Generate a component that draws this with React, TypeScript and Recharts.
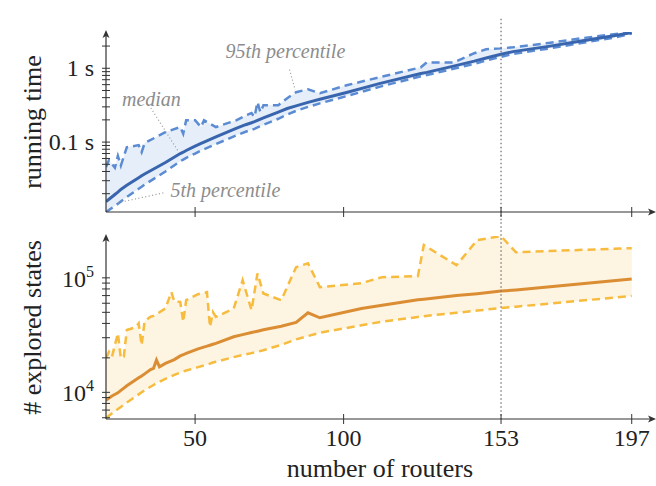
import React from "react";
import {
  ComposedChart,
  Line,
  Area,
  XAxis,
  YAxis,
  ReferenceLine,
  ReferenceDot,
} from "recharts";

// running time (s) per number of routers
const routersTop = [
  20, 21, 23, 24, 25, 27, 31, 32, 33, 40, 45, 46, 47, 50, 52, 53, 57, 64, 67,
  69, 70, 71, 72, 73, 78, 81, 84, 88, 92, 101, 112, 126, 128, 137, 144, 148,
  153, 157, 169, 180, 191, 197,
];
const timeP5 = [
  0.0113, 0.012, 0.0137, 0.0146, 0.0157, 0.018, 0.0233, 0.0248, 0.0265, 0.04,
  0.055, 0.058, 0.061, 0.07, 0.077, 0.08, 0.094, 0.124, 0.138, 0.147, 0.151,
  0.158, 0.164, 0.171, 0.207, 0.236, 0.265, 0.3, 0.335, 0.42, 0.56, 0.78, 0.81,
  0.985, 1.15, 1.27, 1.43, 1.56, 1.85, 2.2, 2.6, 2.95,
];
const timeMedian = [
  0.0156, 0.0168, 0.0195, 0.021, 0.0228, 0.026, 0.033, 0.035, 0.037, 0.053,
  0.07, 0.073, 0.077, 0.088, 0.096, 0.1, 0.118, 0.155, 0.172, 0.183, 0.189,
  0.197, 0.205, 0.213, 0.255, 0.285, 0.31, 0.345, 0.38, 0.47, 0.62, 0.85, 0.88,
  1.07, 1.25, 1.38, 1.55, 1.68, 1.98, 2.34, 2.75, 3.05,
];
const timeP95 = [
  0.046, 0.057, 0.045, 0.065, 0.048, 0.085, 0.091, 0.073, 0.097, 0.136, 0.16,
  0.13, 0.198, 0.198, 0.16, 0.198, 0.16, 0.198, 0.23, 0.247, 0.22, 0.347,
  0.254, 0.316, 0.316, 0.393, 0.474, 0.52, 0.459, 0.589, 0.755, 1.03, 1.2, 1.2,
  1.6, 1.81, 1.86, 1.92, 2.2, 2.55, 2.9, 3.08,
];

// explored states per number of routers
const routersBottom = [
  20, 21, 22, 24, 25, 26, 27, 30, 31, 32, 33, 35, 36, 37, 38, 40, 42, 43, 45,
  46, 47, 51, 54, 55, 56, 57, 63, 66, 69, 71, 73, 79, 84, 88, 92, 106, 113, 125,
  127, 138, 145, 153, 158, 197,
];
const statesP5 = [
  5970, 6250, 6550, 7150, 7450, 7800, 8150, 9200, 9600, 10000, 10400, 11200,
  11600, 12000, 12400, 13100, 13800, 14200, 14900, 15200, 15500, 16600, 17500,
  17800, 18200, 18500, 20300, 21200, 22000, 22600, 23300, 26000, 29000, 31000,
  33200, 38500, 41500, 45500, 46300, 49500, 51800, 54500, 56000, 69500,
];
const statesMedian = [
  8500, 8900, 9300, 9900, 10400, 10900, 11400, 12900, 13400, 13900, 14500,
  15800, 16200, 19150, 16700, 17900, 18800, 19300, 20800, 21300, 21900, 24000,
  25300, 25800, 26300, 26800, 30600, 31900, 33300, 34200, 35200, 37800, 40800,
  49500, 44800, 54000, 57700, 64300, 65000, 70000, 72700, 76600, 78300, 97500,
];
const statesP95 = [
  19900, 22600, 20500, 32800, 19800, 20500, 35000, 37000, 40000, 25800, 42000,
  45800, 46500, 48000, 50000, 54000, 75200, 62000, 61700, 41300, 63800, 72000,
  75000, 37200, 50200, 45500, 54000, 95500, 52200, 109500, 73000, 63800,
  124000, 134000, 83000, 89900, 101400, 103500, 193300, 129000, 213900, 231300,
  167500, 181700,
];

const xTicks = [50, 100, 153, 197];
const timeMajor = [0.1, 1];
const timeMinor = [
  0.02, 0.03, 0.04, 0.05, 0.06, 0.07, 0.08, 0.09, 0.2, 0.3, 0.4, 0.5, 0.6, 0.7,
  0.8, 0.9, 2,
];
const statesMajor = [10000, 100000];
const statesMinor = [
  6000, 7000, 8000, 9000, 20000, 30000, 40000, 50000, 60000, 70000, 80000,
  90000,
];

const topData = routersTop.map((r, i) => ({
  routers: r,
  p5: timeP5[i],
  median: timeMedian[i],
  p95: timeP95[i],
  band: [timeP5[i], timeP95[i]],
}));

const bottomData = routersBottom.map((r, i) => ({
  routers: r,
  p5: statesP5[i],
  median: statesMedian[i],
  p95: statesP95[i],
  band: [statesP5[i], statesP95[i]],
}));

const FONT = "'Liberation Serif', 'DejaVu Serif', serif";
const AXIS = "#333";
const NOTE = "#8c8c8c";
const TICK_SIZE = 24;
const TITLE_SIZE = 26;

const XTick = (props: any) => {
  const { x, y, payload, showLabel } = props;
  return (
    <g>
      <line x1={x} x2={x} y1={y - 5} y2={y + 5} stroke={AXIS} strokeWidth={1} />
      {showLabel && (
        <text
          x={x}
          y={y + 27}
          textAnchor="middle"
          fontFamily={FONT}
          fontSize={TICK_SIZE}
          fill="#222"
        >
          {payload.value}
        </text>
      )}
    </g>
  );
};

const TimeTick = (props: any) => {
  const { x, y, payload } = props;
  const major = timeMajor.includes(payload.value);
  return (
    <g>
      <line x1={x - 4} x2={x + 4} y1={y} y2={y} stroke={AXIS} strokeWidth={1} />
      {major && (
        <text
          x={x - 12}
          y={y + 8}
          textAnchor="end"
          fontFamily={FONT}
          fontSize={TICK_SIZE}
          fill="#222"
        >
          {payload.value} s
        </text>
      )}
    </g>
  );
};

const StatesTick = (props: any) => {
  const { x, y, payload } = props;
  const major = statesMajor.includes(payload.value);
  return (
    <g>
      <line x1={x - 4} x2={x + 4} y1={y} y2={y} stroke={AXIS} strokeWidth={1} />
      {major && (
        <text
          x={x - 12}
          y={y + 9}
          textAnchor="end"
          fontFamily={FONT}
          fontSize={TICK_SIZE}
          fill="#222"
        >
          <tspan>10</tspan>
          <tspan dy={-10} fontSize={16}>
            {Math.round(Math.log10(payload.value))}
          </tspan>
        </text>
      )}
    </g>
  );
};

const yTitle = (text: string) => (props: any) => {
  const { viewBox } = props;
  const cy = viewBox.y + viewBox.height / 2;
  return (
    <text
      x={32}
      y={cy}
      transform={`rotate(-90, 32, ${cy})`}
      textAnchor="middle"
      dominantBaseline="central"
      fontFamily={FONT}
      fontSize={TITLE_SIZE}
      fill="#222"
    >
      {text}
    </text>
  );
};

const arrowUp = (p: any) => (
  <path
    d={`M${p.cx},${p.cy - 2} L${p.cx - 3.5},${p.cy + 6} L${p.cx},${p.cy + 4} L${p.cx + 3.5},${p.cy + 6} Z`}
    fill={AXIS}
  />
);
const arrowRight = (p: any) => (
  <path
    d={`M${p.cx + 2},${p.cy} L${p.cx - 6},${p.cy - 3.5} L${p.cx - 4},${p.cy} L${p.cx - 6},${p.cy + 3.5} Z`}
    fill={AXIS}
  />
);

const note = (text: string) => (p: any) => (
  <text
    x={p.cx}
    y={p.cy}
    textAnchor="middle"
    dominantBaseline="central"
    fontFamily={FONT}
    fontStyle="italic"
    fontSize={20}
    fill={NOTE}
  >
    {text}
  </text>
);

const X_DOMAIN = [20, 204.5];
const TIME_DOMAIN = [0.0113, 3.1];
const STATES_DOMAIN = [5850, 232000];

export default function App() {
  return (
    <div
      style={{
        position: "absolute",
        left: 0,
        top: 0,
        width: 656,
        height: 486,
        background: "#fff",
      }}
    >
      <ComposedChart
        width={656}
        height={222}
        data={topData}
        margin={{ top: 32, right: 2, bottom: 0, left: 0 }}
      >
        <XAxis
          dataKey="routers"
          type="number"
          domain={X_DOMAIN}
          allowDataOverflow
          ticks={xTicks}
          interval={0}
          tickSize={0}
          tickMargin={0}
          height={10}
          axisLine={{ stroke: AXIS, strokeWidth: 1.2 }}
          tickLine={false}
          tick={<XTick showLabel={false} />}
        />
        <YAxis
          type="number"
          scale="log"
          domain={TIME_DOMAIN}
          allowDataOverflow
          ticks={[...timeMinor, ...timeMajor]}
          interval={0}
          tickSize={0}
          tickMargin={0}
          width={106}
          axisLine={{ stroke: AXIS, strokeWidth: 1.2 }}
          tickLine={false}
          tick={<TimeTick />}
          label={{ content: yTitle("running time") }}
        />
        <Area
          dataKey="band"
          stroke="none"
          fill="#e6eef9"
          fillOpacity={1}
          isAnimationActive={false}
        />
        <Line
          dataKey="p95"
          stroke="#5a8bd3"
          strokeWidth={2.5}
          strokeDasharray="8 5"
          dot={false}
          isAnimationActive={false}
        />
        <Line
          dataKey="p5"
          stroke="#5a8bd3"
          strokeWidth={2.5}
          strokeDasharray="8 5"
          dot={false}
          isAnimationActive={false}
        />
        <Line
          dataKey="median"
          stroke="#3865ae"
          strokeWidth={3}
          dot={false}
          isAnimationActive={false}
        />
        <ReferenceLine
          segment={[
            { x: 153, y: 4.7 },
            { x: 153, y: 0.0083 },
          ]}
          ifOverflow="visible"
          stroke="#777"
          strokeWidth={1.3}
          strokeDasharray="1.5 2.5"
        />
        <ReferenceLine
          segment={[
            { x: 81.8, y: 0.96 },
            { x: 83.7, y: 0.505 },
          ]}
          stroke="#999"
          strokeWidth={1.2}
          strokeDasharray="1 2.5"
        />
        <ReferenceLine
          segment={[
            { x: 35.1, y: 0.29 },
            { x: 44.4, y: 0.074 },
          ]}
          stroke="#999"
          strokeWidth={1.2}
          strokeDasharray="1 2.5"
        />
        <ReferenceLine
          segment={[
            { x: 39.3, y: 0.0205 },
            { x: 23.7, y: 0.015 },
          ]}
          stroke="#999"
          strokeWidth={1.2}
          strokeDasharray="1 2.5"
        />
        <ReferenceDot x={80.4} y={1.7} r={0} ifOverflow="visible" shape={note("95th percentile")} />
        <ReferenceDot x={35.3} y={0.381} r={0} ifOverflow="visible" shape={note("median")} />
        <ReferenceDot x={60.2} y={0.0224} r={0} ifOverflow="visible" shape={note("5th percentile")} />
        <ReferenceDot x={20} y={TIME_DOMAIN[1]} r={0} ifOverflow="visible" shape={arrowUp} />
        <ReferenceDot x={X_DOMAIN[1]} y={TIME_DOMAIN[0]} r={0} ifOverflow="visible" shape={arrowRight} />
      </ComposedChart>
      <ComposedChart
        width={656}
        height={264}
        data={bottomData}
        margin={{ top: 14, right: 2, bottom: 0, left: 0 }}
      >
        <XAxis
          dataKey="routers"
          type="number"
          domain={X_DOMAIN}
          allowDataOverflow
          ticks={xTicks}
          interval={0}
          tickSize={0}
          tickMargin={0}
          height={67}
          axisLine={{ stroke: AXIS, strokeWidth: 1.2 }}
          tickLine={false}
          tick={<XTick showLabel />}
          label={{
            content: (props: any) => {
              const { viewBox } = props;
              return (
                <text
                  x={380}
                  y={viewBox.y + viewBox.height - 9}
                  textAnchor="middle"
                  fontFamily={FONT}
                  fontSize={TITLE_SIZE}
                  fill="#222"
                >
                  number of routers
                </text>
              );
            },
          }}
        />
        <YAxis
          type="number"
          scale="log"
          domain={STATES_DOMAIN}
          allowDataOverflow
          ticks={[...statesMinor, ...statesMajor]}
          interval={0}
          tickSize={0}
          tickMargin={0}
          width={106}
          axisLine={{ stroke: AXIS, strokeWidth: 1.2 }}
          tickLine={false}
          tick={<StatesTick />}
          label={{ content: yTitle("# explored states") }}
        />
        <Area
          dataKey="band"
          stroke="none"
          fill="#fdf4e1"
          fillOpacity={1}
          isAnimationActive={false}
        />
        <Line
          dataKey="p95"
          stroke="#f7bb3e"
          strokeWidth={2.5}
          strokeDasharray="8 5"
          dot={false}
          isAnimationActive={false}
        />
        <Line
          dataKey="p5"
          stroke="#f7bb3e"
          strokeWidth={2.5}
          strokeDasharray="8 5"
          dot={false}
          isAnimationActive={false}
        />
        <Line
          dataKey="median"
          stroke="#db8d33"
          strokeWidth={3}
          dot={false}
          isAnimationActive={false}
        />
        <ReferenceLine
          segment={[
            { x: 153, y: 306000 },
            { x: 153, y: STATES_DOMAIN[0] },
          ]}
          ifOverflow="visible"
          stroke="#777"
          strokeWidth={1.3}
          strokeDasharray="1.5 2.5"
        />
        <ReferenceDot x={20} y={STATES_DOMAIN[1]} r={0} ifOverflow="visible" shape={arrowUp} />
        <ReferenceDot x={X_DOMAIN[1]} y={STATES_DOMAIN[0]} r={0} ifOverflow="visible" shape={arrowRight} />
      </ComposedChart>
    </div>
  );
}
